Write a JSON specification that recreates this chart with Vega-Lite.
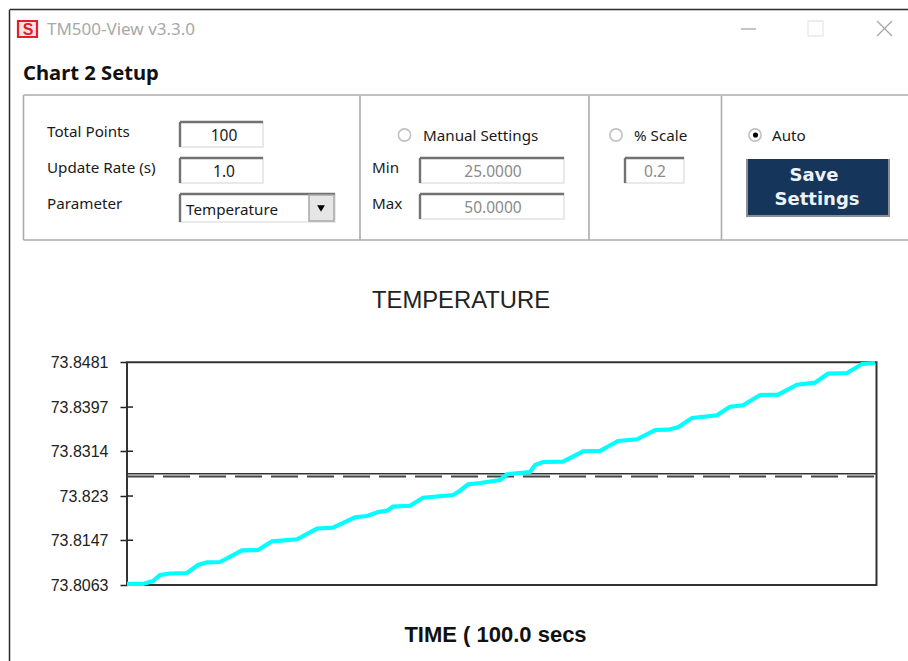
{
"$schema":"https://vega.github.io/schema/vega-lite/v6.json",
"width":908,"height":661,"padding":0,"autosize":{"type":"none"},"background":"white",
"config":{"view":{"stroke":null}},
"title":{"text":"TEMPERATURE","anchor":"start","frame":"group","dx":372,"dy":317,"font":"Liberation Sans","fontSize":23.8,"fontWeight":"normal","color":"#222"},
"datasets":{
"boxes":[{"x":180,"x2":263,"y":122,"y2":147},{"x":180,"x2":263,"y":158,"y2":183},{"x":180,"x2":335,"y":194,"y2":222},{"x":420,"x2":564,"y":158,"y2":183},{"x":420,"x2":564,"y":194,"y2":219},{"x":625,"x2":684,"y":158,"y2":183}],
"temperature":[{"t":0,"v":73.8065},{"t":2.13,"v":73.8065},{"t":3.47,"v":73.80705},{"t":4.4,"v":73.80818},{"t":5.74,"v":73.80846},{"t":8,"v":73.80855},{"t":9.47,"v":73.81005},{"t":10.67,"v":73.81056},{"t":12.41,"v":73.81062},{"t":15.34,"v":73.81281},{"t":17.48,"v":73.81287},{"t":19.35,"v":73.8145},{"t":22.68,"v":73.81488},{"t":25.35,"v":73.8169},{"t":27.48,"v":73.81706},{"t":30.42,"v":73.81901},{"t":32.02,"v":73.81925},{"t":33.49,"v":73.82},{"t":34.69,"v":73.82025},{"t":35.49,"v":73.821},{"t":37.76,"v":73.82118},{"t":39.49,"v":73.82269},{"t":43.5,"v":73.82319},{"t":44.43,"v":73.824},{"t":45.5,"v":73.8252},{"t":47.1,"v":73.82545},{"t":49.77,"v":73.82601},{"t":50.7,"v":73.82708},{"t":53.77,"v":73.82751},{"t":54.44,"v":73.82882},{"t":55.5,"v":73.82939},{"t":58.17,"v":73.82944},{"t":60.84,"v":73.8314},{"t":63.11,"v":73.83149},{"t":65.51,"v":73.83333},{"t":68.05,"v":73.83365},{"t":70.45,"v":73.83539},{"t":72.18,"v":73.83545},{"t":73.52,"v":73.8359},{"t":75.38,"v":73.83765},{"t":78.72,"v":73.83815},{"t":80.45,"v":73.83977},{"t":82.19,"v":73.84003},{"t":84.46,"v":73.84196},{"t":86.86,"v":73.84202},{"t":89.39,"v":73.8439},{"t":91.79,"v":73.84427},{"t":93.53,"v":73.84596},{"t":96.06,"v":73.84609},{"t":98.07,"v":73.84778},{"t":99.8,"v":73.84797}]
},
"layer":[
{"encoding":{"x":{"field":"x","type":"quantitative","axis":null,"scale":{"domain":[0,908],"range":[0,908],"nice":false,"zero":false}},"y":{"field":"y","type":"quantitative","axis":null,"scale":{"domain":[0,661],"range":[0,661],"nice":false,"zero":false}}},
"layer":[
{"data":{"values":[{"x":9.5,"x2":9.5,"y":10,"y2":661},{"x":9.5,"x2":908,"y":9.5,"y2":9.5}]},"mark":{"type":"rule","stroke":"#2a2a2a","strokeWidth":1.5},"encoding":{"x2":{"field":"x2"},"y2":{"field":"y2"}}},
{"data":{"values":[{"x":23.5,"x2":908,"y":95,"y2":95},{"x":23.5,"x2":908,"y":240,"y2":240},{"x":23.5,"x2":23.5,"y":95,"y2":240},{"x":360,"x2":360,"y":96,"y2":240},{"x":589,"x2":589,"y":96,"y2":240},{"x":721.5,"x2":721.5,"y":96,"y2":240}]},"mark":{"type":"rule","stroke":"#ababab","strokeWidth":1.6},"encoding":{"x2":{"field":"x2"},"y2":{"field":"y2"}}},
{"data":{"name":"boxes"},"mark":{"type":"rect","fill":"white","stroke":"#e2e2e2","strokeWidth":1.5},"encoding":{"x2":{"field":"x2"},"y2":{"field":"y2"}}},
{"data":{"name":"boxes"},"mark":{"type":"rule","stroke":"#727272","strokeWidth":2.4},"encoding":{"x2":{"field":"x2"}}},
{"data":{"name":"boxes"},"mark":{"type":"rule","stroke":"#727272","strokeWidth":2.4},"encoding":{"y2":{"field":"y2"}}},
{"data":{"values":[{"x":309,"x2":334,"y":195,"y2":221}]},"mark":{"type":"rect","fill":"#e6e6e6","stroke":"#a8a8a8","strokeWidth":1.5},"encoding":{"x2":{"field":"x2"},"y2":{"field":"y2"}}},
{"data":{"values":[{"x":321,"y":208.5}]},"mark":{"type":"point","shape":"triangle-down","filled":true,"fill":"#000","opacity":1,"stroke":null,"size":60}},
{"data":{"values":[{"x":404.5,"y":135},{"x":616,"y":135},{"x":755,"y":135}]},"mark":{"type":"point","shape":"circle","filled":false,"stroke":"#a8a8a8","strokeWidth":1.6,"size":150}},
{"data":{"values":[{"x":755.5,"y":135}]},"mark":{"type":"point","shape":"circle","filled":true,"fill":"#000","opacity":1,"stroke":null,"size":26}},
{"data":{"values":[{"x":746,"x2":890,"y":159,"y2":217}]},"mark":{"type":"rect","fill":"#8a8f94"},"encoding":{"x2":{"field":"x2"},"y2":{"field":"y2"}}},
{"data":{"values":[{"x":748,"x2":888,"y":159,"y2":215}]},"mark":{"type":"rect","fill":"#15365a"},"encoding":{"x2":{"field":"x2"},"y2":{"field":"y2"}}},
{"data":{"values":[{"x":18,"x2":37,"y":21,"y2":37}]},"mark":{"type":"rect","fill":"#fbe3e3","stroke":"#e0202a","strokeWidth":2.2},"encoding":{"x2":{"field":"x2"},"y2":{"field":"y2"}}},
{"data":{"values":[{"x":741,"x2":756,"y":29,"y2":29},{"x":877,"x2":892,"y":21,"y2":36},{"x":877,"x2":892,"y":36,"y2":21}]},"mark":{"type":"rule","stroke":"#a6a6a6","strokeWidth":1.3},"encoding":{"x2":{"field":"x2"},"y2":{"field":"y2"}}},
{"data":{"values":[{"x":808,"x2":823,"y":21,"y2":36}]},"mark":{"type":"rect","fill":"white","stroke":"#e8e8e8","strokeWidth":1.3},"encoding":{"x2":{"field":"x2"},"y2":{"field":"y2"}}},
{"data":{"values":[{"x":28,"y":29.5,"label":"S"}]},"mark":{"type":"text","font":"Liberation Sans","fontWeight":"bold","fontSize":16,"fill":"#e0202a","align":"center","baseline":"middle"},"encoding":{"text":{"field":"label"}}},
{"data":{"values":[{"x":47,"y":29.5,"label":"TM500-View v3.3.0"}]},"mark":{"type":"text","font":"Noto Sans","fontSize":17,"fill":"#a8a8a8","align":"left","baseline":"middle"},"encoding":{"text":{"field":"label"}}},
{"data":{"values":[{"x":23,"y":73.5,"label":"Chart 2 Setup"}]},"mark":{"type":"text","font":"Noto Sans","fontWeight":"bold","fontSize":20.2,"fill":"#111","align":"left","baseline":"middle"},"encoding":{"text":{"field":"label"}}},
{"data":{"values":[{"x":47,"y":131.5,"label":"Total Points"},{"x":47,"y":167.5,"label":"Update Rate (s)"},{"x":47,"y":203.5,"label":"Parameter"},{"x":423,"y":135.5,"label":"Manual Settings"},{"x":372,"y":167.5,"label":"Min"},{"x":372,"y":203.5,"label":"Max"},{"x":634,"y":135.5,"label":"% Scale"},{"x":772,"y":135.5,"label":"Auto"},{"x":186,"y":210,"label":"Temperature"}]},"mark":{"type":"text","font":"Noto Sans","fontSize":15.2,"fill":"#1a1a1a","align":"left","baseline":"middle"},"encoding":{"text":{"field":"label"}}},
{"data":{"values":[{"x":224,"y":135.5,"label":"100"},{"x":224,"y":171.5,"label":"1.0"}]},"mark":{"type":"text","font":"Noto Sans","fontSize":15.5,"fill":"#1a1a1a","align":"center","baseline":"middle"},"encoding":{"text":{"field":"label"}}},
{"data":{"values":[{"x":493,"y":171.5,"label":"25.0000"},{"x":493,"y":207.5,"label":"50.0000"},{"x":655,"y":171.5,"label":"0.2"}]},"mark":{"type":"text","font":"Noto Sans","fontSize":15.5,"fill":"#8a8a8a","align":"center","baseline":"middle"},"encoding":{"text":{"field":"label"}}},
{"data":{"values":[{"x":814,"y":176,"label":"Save"},{"x":817,"y":199.5,"label":"Settings"}]},"mark":{"type":"text","font":"DejaVu Sans","fontSize":18,"fontWeight":"bold","fill":"#eef2f6","align":"center","baseline":"middle"},"encoding":{"text":{"field":"label"}}}
]},
{"encoding":{"x":{"field":"t","type":"quantitative","scale":{"domain":[0,100],"range":[127,876.5],"nice":false,"zero":false},"axis":{"orient":"bottom","offset":-76,"ticks":false,"labels":false,"domain":false,"grid":false,"title":"TIME ( 100.0 secs","titleFont":"Liberation Sans","titleFontSize":22,"titleFontWeight":"bold","titleColor":"#111","titleX":495,"titleY":49,"titleBaseline":"middle"}},
"y":{"field":"v","type":"quantitative","scale":{"domain":[73.8063,73.8481],"range":[585,362.3],"nice":false,"zero":false},"axis":{"orient":"left","offset":-127,"values":[73.8063,73.8147,73.823,73.8314,73.8397,73.8481],"format":".4~f","title":null,"grid":false,"domainColor":"#333","domainWidth":2,"tickColor":"#222","tickWidth":1.5,"tickSize":7,"labelPadding":12,"labelFont":"Liberation Sans","labelFontSize":16,"labelColor":"#222"}}},
"layer":[
{"data":{"values":[{"t":0,"t2":100,"v":73.8063,"v2":73.8481}]},"mark":{"type":"rect","fill":"white","stroke":"#333","strokeWidth":2},"encoding":{"x2":{"field":"t2"},"y2":{"field":"v2"}}},
{"data":{"values":[{"t":0,"t2":100,"v":73.82717}]},"mark":{"type":"rule","stroke":"#333","strokeWidth":1.6},"encoding":{"x2":{"field":"t2"}}},
{"data":{"values":[{"t":0,"t2":100,"v":73.82667}]},"mark":{"type":"rule","stroke":"#444","strokeWidth":2,"strokeDash":[27,9]},"encoding":{"x2":{"field":"t2"}}},
{"data":{"values":[{"t":0,"t2":0.8,"v":73.8147},{"t":0,"t2":0.8,"v":73.823},{"t":0,"t2":0.8,"v":73.8314},{"t":0,"t2":0.8,"v":73.8397}]},"mark":{"type":"rule","stroke":"#222","strokeWidth":1.5},"encoding":{"x2":{"field":"t2"}}},
{"data":{"name":"temperature"},"mark":{"type":"line","stroke":"#00ffff","strokeWidth":4.2,"interpolate":"linear"}}
]}
],
"resolve":{"scale":{"x":"independent","y":"independent"},"axis":{"x":"independent","y":"independent"}}
}
